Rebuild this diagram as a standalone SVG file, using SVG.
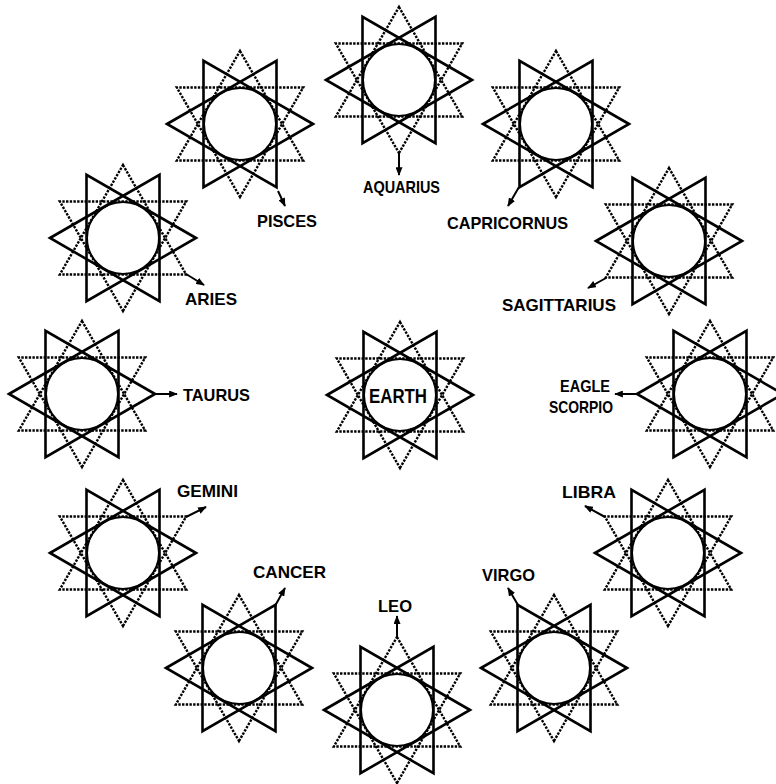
<svg xmlns="http://www.w3.org/2000/svg" xmlns:xlink="http://www.w3.org/1999/xlink" width="776" height="784" viewBox="0 0 776 784">
<style>
.solid{fill:none;stroke:#000;stroke-width:2.6;stroke-linejoin:miter}
.dot{fill:none;stroke:#000;stroke-width:2.4;stroke-dasharray:2.4 1.3}
.ring{fill:none;stroke:#000;stroke-width:2}
.lbl{font-family:"Liberation Sans",Arial,sans-serif;font-weight:bold;font-size:17px;fill:#000}
.con{fill:none;stroke:#000;stroke-width:2;marker-end:url(#ah)}
</style>
<defs>
<marker id="ah" viewBox="0 0 10 8" refX="9" refY="4" markerWidth="9" markerHeight="7" markerUnits="userSpaceOnUse" orient="auto">
<path d="M0,0 L10,4 L0,8 z" fill="#000"/>
</marker>
<g id="star">
<polygon class="dot" points="0,-73 63.2,36.5 -63.2,36.5"/>
<polygon class="dot" points="0,73 63.2,-36.5 -63.2,-36.5"/>
<polygon class="solid" points="73,0 -36.5,-63.2 -36.5,63.2"/>
<polygon class="solid" points="-73,0 36.5,-63.2 36.5,63.2"/>
<circle class="ring" r="36"/>
</g>
</defs>
<rect width="776" height="784" fill="#fff"/>
<g id="connectors">
<line class="con" x1="399" y1="153" x2="399" y2="175"/>
<line class="con" x1="278" y1="191" x2="285" y2="206"/>
<line class="con" x1="519" y1="187" x2="508" y2="206"/>
<line class="con" x1="186" y1="274" x2="204" y2="285"/>
<line class="con" x1="606" y1="278" x2="588" y2="288"/>
<line class="con" x1="155" y1="394" x2="177" y2="394"/>
<line class="con" x1="637" y1="394" x2="615" y2="394"/>
<line class="con" x1="186" y1="517" x2="206" y2="507"/>
<line class="con" x1="605" y1="517" x2="585" y2="506"/>
<line class="con" x1="275" y1="606" x2="285" y2="588"/>
<line class="con" x1="518" y1="605" x2="508" y2="588"/>
<line class="con" x1="397" y1="637" x2="397" y2="616"/>
</g>
<g id="aquarius"><use xlink:href="#star" x="399" y="80"/><text class="lbl" x="363" y="193" textLength="77" lengthAdjust="spacingAndGlyphs">AQUARIUS</text></g>
<g id="capricornus"><use xlink:href="#star" x="556" y="124"/><text class="lbl" x="447" y="229" textLength="121" lengthAdjust="spacingAndGlyphs">CAPRICORNUS</text></g>
<g id="pisces"><use xlink:href="#star" x="240" y="124"/><text class="lbl" x="257" y="227" textLength="60" lengthAdjust="spacingAndGlyphs">PISCES</text></g>
<g id="sagittarius"><use xlink:href="#star" x="669" y="241"/><text class="lbl" x="502" y="311" textLength="114" lengthAdjust="spacingAndGlyphs">SAGITTARIUS</text></g>
<g id="aries"><use xlink:href="#star" x="123" y="238"/><text class="lbl" x="185" y="305" textLength="52" lengthAdjust="spacingAndGlyphs">ARIES</text></g>
<g id="taurus"><use xlink:href="#star" x="82" y="394"/><text class="lbl" x="183" y="401" textLength="67" lengthAdjust="spacingAndGlyphs">TAURUS</text></g>
<g id="earth"><use xlink:href="#star" x="400" y="395"/><text class="lbl" x="369" y="403" textLength="58" lengthAdjust="spacingAndGlyphs" style="font-size:20px">EARTH</text></g>
<g id="eagle-scorpio"><use xlink:href="#star" x="710" y="394"/><text class="lbl" x="560" y="392" textLength="50" lengthAdjust="spacingAndGlyphs">EAGLE</text><text class="lbl" x="549" y="413" textLength="64" lengthAdjust="spacingAndGlyphs">SCORPIO</text></g>
<g id="gemini"><use xlink:href="#star" x="123" y="553"/><text class="lbl" x="177" y="497" textLength="61" lengthAdjust="spacingAndGlyphs">GEMINI</text></g>
<g id="libra"><use xlink:href="#star" x="668" y="553"/><text class="lbl" x="562" y="498" textLength="54" lengthAdjust="spacingAndGlyphs">LIBRA</text></g>
<g id="cancer"><use xlink:href="#star" x="239" y="668"/><text class="lbl" x="253" y="578" textLength="73" lengthAdjust="spacingAndGlyphs">CANCER</text></g>
<g id="virgo"><use xlink:href="#star" x="554" y="668"/><text class="lbl" x="482" y="581" textLength="53" lengthAdjust="spacingAndGlyphs">VIRGO</text></g>
<g id="leo"><use xlink:href="#star" x="397" y="710"/><text class="lbl" x="378" y="612" textLength="34" lengthAdjust="spacingAndGlyphs">LEO</text></g>
</svg>
